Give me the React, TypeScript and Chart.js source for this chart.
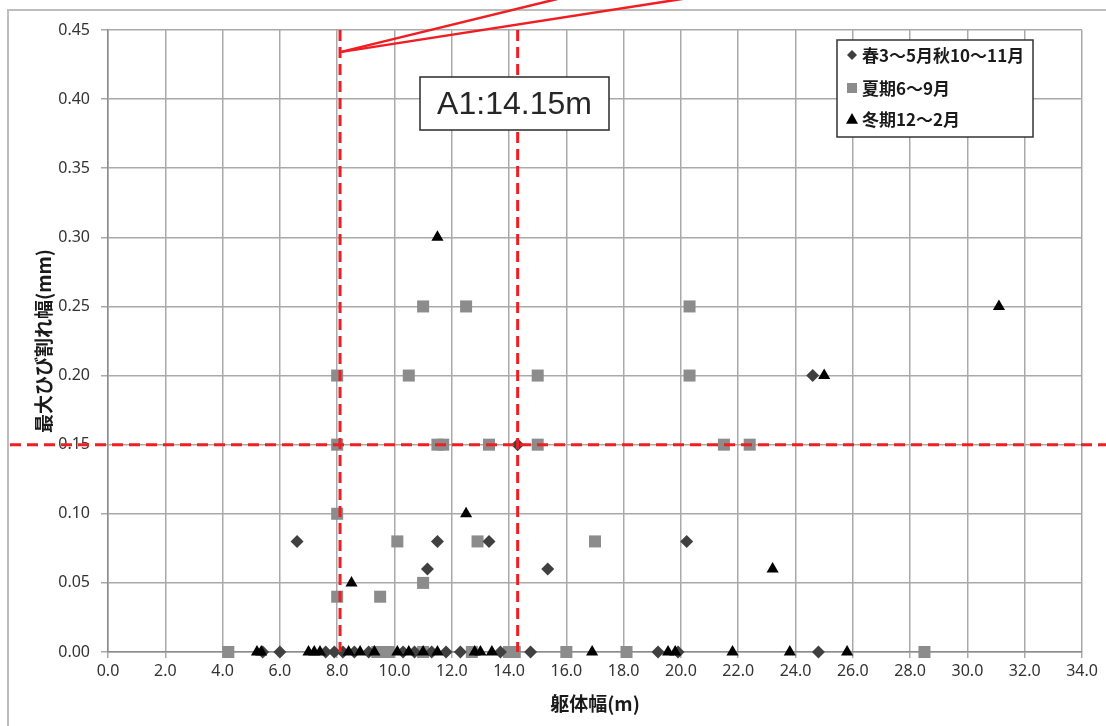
import React, { useEffect, useRef } from "react";
import { Chart, registerables } from "chart.js";

Chart.register(...registerables);

const seriesNames = ["春3～5月秋10～11月", "夏期6～9月", "冬期12～2月"];

const springX = [6.6, 11.5, 11.15, 13.3, 15.35, 20.2, 24.6, 14.3, 5.4, 6.0, 7.6, 7.9, 8.2, 8.6, 9.1, 10.3, 10.7, 11.3, 11.8, 12.3, 13.7, 14.75, 19.2, 19.9, 24.8];
const springY = [0.08, 0.08, 0.06, 0.08, 0.06, 0.08, 0.2, 0.15, 0, 0, 0, 0, 0, 0, 0, 0, 0, 0, 0, 0, 0, 0, 0, 0, 0];

const summerX = [8.0, 8.0, 8.0, 8.0, 11.0, 12.5, 10.5, 15.0, 20.3, 20.3, 11.5, 11.7, 13.3, 15.0, 21.5, 22.4, 10.1, 12.9, 17.0, 9.5, 11.0, 4.2, 9.4, 9.6, 9.8, 11.0, 12.7, 14.0, 14.2, 16.0, 18.1, 28.5];
const summerY = [0.2, 0.15, 0.1, 0.04, 0.25, 0.25, 0.2, 0.2, 0.25, 0.2, 0.15, 0.15, 0.15, 0.15, 0.15, 0.15, 0.08, 0.08, 0.08, 0.04, 0.05, 0, 0, 0, 0, 0, 0, 0, 0, 0, 0, 0];

const winterX = [11.5, 12.5, 8.5, 23.2, 25.0, 31.1, 5.2, 5.35, 7.0, 7.2, 7.4, 8.4, 8.8, 9.3, 10.1, 10.5, 11.0, 11.5, 12.8, 13.0, 13.4, 16.9, 19.55, 19.8, 21.8, 23.8, 25.8];
const winterY = [0.3, 0.1, 0.05, 0.06, 0.2, 0.25, 0, 0, 0, 0, 0, 0, 0, 0, 0, 0, 0, 0, 0, 0, 0, 0, 0, 0, 0, 0, 0];

const xTickStep = 2;
const yTickStep = 0.05;
const xRange = [0, 34];
const yRange = [0, 0.45];

const thresholdY = 0.15;
const markerLinesX = [8.1, 14.3];
const leaderStart = [8.1, 0.434];
const leaderEnds = [
  [15.6, 0.472],
  [19.9, 0.472],
];
const calloutText = "A1:14.15m";
const xTitle = "躯体幅(m)";
const yTitle = "最大ひび割れ幅(mm)";

const toPts = (xs: number[], ys: number[]) => xs.map((x, i) => ({ x, y: ys[i] }));

const RED = "#f01e23";

function drawMarker(ctx: CanvasRenderingContext2D, kind: string, x: number, y: number, s: number, color: string) {
  ctx.save();
  ctx.fillStyle = color;
  ctx.beginPath();
  if (kind === "diamond") {
    ctx.moveTo(x, y - s);
    ctx.lineTo(x + s, y);
    ctx.lineTo(x, y + s);
    ctx.lineTo(x - s, y);
  } else if (kind === "square") {
    ctx.rect(x - s, y - s, 2 * s, 2 * s);
  } else {
    ctx.moveTo(x, y - s);
    ctx.lineTo(x + s, y + s * 0.8);
    ctx.lineTo(x - s, y + s * 0.8);
  }
  ctx.closePath();
  ctx.fill();
  ctx.restore();
}

const decorPlugin = {
  id: "decor",
  beforeDraw(chart: any) {
    const ctx = chart.ctx as CanvasRenderingContext2D;
    ctx.save();
    ctx.fillStyle = "#ffffff";
    ctx.fillRect(0, 0, chart.width, chart.height);
    ctx.strokeStyle = "#bdbdbd";
    ctx.lineWidth = 2;
    ctx.strokeRect(8, 10, chart.width + 20, chart.height + 20);
    ctx.restore();
  },
  afterDatasetsDraw(chart: any) {
    const ctx = chart.ctx as CanvasRenderingContext2D;
    const xs = chart.scales.x;
    const ys = chart.scales.y;
    const area = chart.chartArea;
    ctx.save();
    ctx.strokeStyle = RED;
    ctx.lineWidth = 3;
    ctx.setLineDash([11, 6]);
    const hy = ys.getPixelForValue(thresholdY);
    ctx.beginPath();
    ctx.moveTo(10, hy);
    ctx.lineTo(chart.width, hy);
    ctx.stroke();
    markerLinesX.forEach((v) => {
      const px = xs.getPixelForValue(v);
      ctx.beginPath();
      ctx.moveTo(px, area.top);
      ctx.lineTo(px, area.bottom);
      ctx.stroke();
    });
    ctx.setLineDash([]);
    ctx.lineWidth = 2.5;
    const sx = xs.getPixelForValue(leaderStart[0]);
    const sy = ys.getPixelForValue(leaderStart[1]);
    leaderEnds.forEach((e) => {
      const ex = xs.getPixelForValue(e[0]);
      const ey = ys.getPixelForValue(e[1]);
      const t = 3;
      ctx.beginPath();
      ctx.moveTo(sx, sy);
      ctx.lineTo(sx + (ex - sx) * t, sy + (ey - sy) * t);
      ctx.stroke();
    });
    ctx.fillStyle = "#ffffff";
    ctx.fillRect(420, 77, 189, 53);
    ctx.strokeStyle = "#2a2a2a";
    ctx.lineWidth = 1.5;
    ctx.strokeRect(420, 77, 189, 53);
    ctx.fillStyle = "#262626";
    ctx.font = "32px 'Liberation Sans', Arial, sans-serif";
    ctx.textAlign = "center";
    ctx.textBaseline = "middle";
    ctx.fillText(calloutText, 514.5, 105);
    ctx.fillStyle = "#ffffff";
    ctx.fillRect(837, 40, 196, 97);
    ctx.strokeStyle = "#333333";
    ctx.lineWidth = 1.5;
    ctx.strokeRect(837, 40, 196, 97);
    const kinds = ["diamond", "square", "triangle"];
    const colors = ["#404040", "#8c8c8c", "#000000"];
    const ly = [55, 88, 119];
    ctx.font = "bold 17px 'Noto Sans CJK JP', sans-serif";
    ctx.textAlign = "left";
    ctx.textBaseline = "middle";
    seriesNames.forEach((n, i) => {
      drawMarker(ctx, kinds[i], 852, ly[i], kinds[i] === "diamond" ? 5 : kinds[i] === "square" ? 5 : 6, colors[i]);
      ctx.fillStyle = "#1a1a1a";
      ctx.fillText(n, 862, ly[i] + 1);
    });
    ctx.font = "bold 19px 'Noto Sans CJK JP', sans-serif";
    ctx.fillStyle = "#1a1a1a";
    ctx.textAlign = "center";
    ctx.fillText(xTitle, (area.left + area.right) / 2, 704);
    ctx.translate(44, (area.top + area.bottom) / 2);
    ctx.rotate(-Math.PI / 2);
    ctx.fillText(yTitle, 0, 0);
    ctx.restore();
  },
};

export default function App() {
  const ref = useRef<HTMLCanvasElement | null>(null);
  useEffect(() => {
    if (!ref.current) return;
    const chart = new Chart(ref.current, {
      type: "scatter",
      data: {
        datasets: [
          {
            label: seriesNames[0],
            data: toPts(springX, springY),
            pointStyle: "rectRot",
            pointRadius: 6.5,
            pointHoverRadius: 6.5,
            backgroundColor: "#404040",
            borderColor: "#404040",
            borderWidth: 0,
            clip: false,
            order: 1,
          },
          {
            label: seriesNames[1],
            data: toPts(summerX, summerY),
            pointStyle: "rect",
            pointRadius: 8.5,
            pointHoverRadius: 8.5,
            backgroundColor: "#8c8c8c",
            borderColor: "#8c8c8c",
            borderWidth: 0,
            clip: false,
            order: 2,
          },
          {
            label: seriesNames[2],
            data: toPts(winterX, winterY),
            pointStyle: "triangle",
            pointRadius: 7,
            pointHoverRadius: 7,
            backgroundColor: "#000000",
            borderColor: "#000000",
            borderWidth: 0,
            clip: false,
            order: 0,
          },
        ],
      },
      options: {
        animation: false,
        responsive: false,
        devicePixelRatio: 1,
        layout: { padding: { top: 30, right: 24, left: 0, bottom: 0 } },
        plugins: { legend: { display: false }, tooltip: { enabled: false } },
        scales: {
          x: {
            type: "linear",
            min: xRange[0],
            max: xRange[1],
            afterFit: (s: any) => {
              s.height = 74;
            },
            ticks: {
              stepSize: xTickStep,
              callback: (v: any) => Number(v).toFixed(1),
              color: "#333333",
              font: { family: "'Noto Sans', sans-serif", size: 16 },
              padding: 4,
              maxRotation: 0,
            },
            grid: { color: "#a9a9a9", lineWidth: 1.5, tickLength: 6 },
            border: { color: "#8c8c8c", width: 1.5 },
          },
          y: {
            type: "linear",
            min: yRange[0],
            max: yRange[1],
            afterFit: (s: any) => {
              s.width = 108;
            },
            ticks: {
              stepSize: yTickStep,
              callback: (v: any) => Number(v).toFixed(2),
              color: "#333333",
              font: { family: "'Noto Sans', sans-serif", size: 16 },
              padding: 11,
            },
            grid: { color: "#a9a9a9", lineWidth: 1.5, tickLength: 7 },
            border: { color: "#8c8c8c", width: 1.5 },
          },
        },
      },
      plugins: [decorPlugin],
    });
    return () => chart.destroy();
  }, []);
  return (
    <div style={{ position: "absolute", left: 0, top: 0, width: 1106, height: 726 }}>
      <canvas ref={ref} width={1106} height={726} style={{ width: 1106, height: 726 }} />
    </div>
  );
}
